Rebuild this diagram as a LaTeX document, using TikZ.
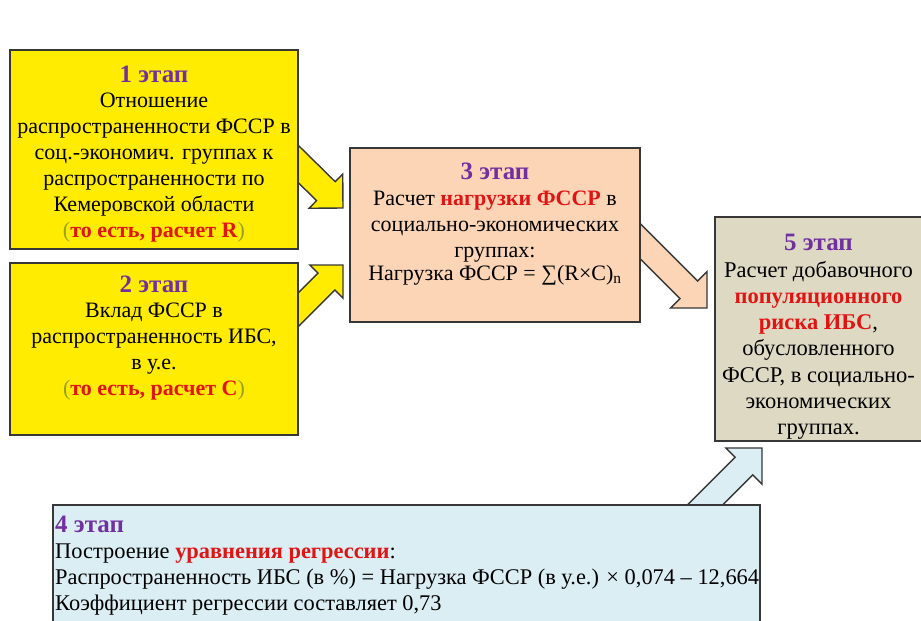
\documentclass[tikz,border=0pt]{standalone}
\usepackage{fontspec}
\setmainfont{Liberation Serif}
\usetikzlibrary{calc,backgrounds}
\definecolor{yfill}{RGB}{255,236,0}
\definecolor{peach}{RGB}{251,213,181}
\definecolor{tanc}{RGB}{221,217,195}
\definecolor{lblue}{RGB}{219,238,244}
\definecolor{bcol}{RGB}{55,55,55}
\definecolor{ttlcol}{RGB}{112,48,160}
\definecolor{redc}{RGB}{225,20,20}
\definecolor{olivec}{RGB}{150,160,40}
\tikzset{
 box/.style={draw=bcol, line width=1.4pt, inner sep=0pt, outer sep=0pt},
 txt/.style={font=\fontsize{22}{25.9}\selectfont, align=center, inner sep=0pt},
 ttl/.style={font=\fontsize{25}{26}\selectfont\bfseries, text=ttlcol, inner sep=0pt},
 arr/.style={draw=bcol, line width=1.4pt, line join=miter},
}
\newcommand\rd[1]{\textcolor{redc}{\textbf{#1}}}
\newcommand\blkarrow[6]{%
 \coordinate (tmpH) at ($(#3)!#6!(#2)$);
 \draw[#1] ($(#2)!#4!90:(#3)$) -- ($(tmpH)!#4!90:(#3)$) -- ($(tmpH)!#5!90:(#3)$) -- (#3)
   -- ($(tmpH)!#5!-90:(#3)$) -- ($(tmpH)!#4!-90:(#3)$) -- ($(#2)!#4!-90:(#3)$) -- cycle;
}
\begin{document}
\begin{tikzpicture}[x=1pt,y=-1pt]
\useasboundingbox (0,0) rectangle (921,621);
% boxes
\node[box, fill=yfill, minimum width=288pt, minimum height=199pt] (b1) at (154,149.5) {};
\node[box, fill=yfill, minimum width=288pt, minimum height=172pt] (b2) at (154,349) {};
\node[box, fill=peach, minimum width=290pt, minimum height=174pt] (b3) at (495,235) {};
\node[box, fill=tanc, minimum width=207pt, minimum height=224pt] (b5) at (818.5,329) {};
\node[box, fill=lblue, minimum width=707pt, minimum height=140pt] (b4) at (406.5,575) {};
% texts
\node[ttl, anchor=base] (t1) at (154,82.5) {1 этап};
\node[txt, anchor=north] (d1) at (154,93) {Отношение\\распространенности ФССР в\\соц.-экономич. группах к\\распространенности по\\Кемеровской области\\\textcolor{olivec}{(}\rd{то есть, расчет R}\textcolor{olivec}{)}};
\node[ttl, anchor=base] (t2) at (154,292.5) {2 этап};
\node[txt, anchor=north] (d2) at (154,303) {Вклад ФССР в\\распространенность ИБС,\\в у.е.\\\textcolor{olivec}{(}\rd{то есть, расчет С}\textcolor{olivec}{)}};
\node[ttl, anchor=base] (t3) at (495,179.5) {3 этап};
\node[txt, anchor=north] (d3) at (495,191) {Расчет \rd{нагрузки ФССР} в\\социально-экономических\\группах:\\[-3pt]Нагрузка ФССР = ∑(R×C)\textsubscript{n}};
\node[ttl, anchor=base] (t5) at (818.5,250.5) {5 этап};
\node[txt, anchor=north, font=\fontsize{22.5}{26.2}\selectfont] (d5) at (818.5,261) {Расчет добавочного\\\rd{популяционного}\\\rd{риска ИБС},\\обусловленного\\ФССР, в социально-\\экономических\\группах.};
\node[ttl, anchor=base west] (t4) at (55,532.5) {4 этап};
\node[txt, align=left, anchor=north west, font=\fontsize{22.4}{26}\selectfont] (d4) at (55,544) {Построение \rd{уравнения регрессии}:\\Распространенность ИБС (в \%) = Нагрузка ФССР (в у.е.) × 0,074 – 12,664\\Коэффициент регрессии составляет 0,73};
% arrows
\begin{pgfonlayer}{background}
\coordinate (a1s) at ($(b1.east)+(-18,-3.5)$);
\coordinate (a1t) at ($(b3.west)+(-7,-27)$);
\blkarrow{arr, fill=yfill}{a1s}{a1t}{13.3pt}{24pt}{24pt}
\coordinate (a2s) at ($(b2.east)+(-18,-21)$);
\coordinate (a2t) at ($(b3.west)+(-7,30)$);
\blkarrow{arr, fill=yfill}{a2s}{a2t}{12pt}{23.5pt}{23.5pt}
\coordinate (a3s) at ($(b3.east)+(-20,-14)$);
\coordinate (a3t) at ($(b5.west)+(-8,-21)$);
\blkarrow{arr, fill=peach}{a3s}{a3t}{12.4pt}{25.8pt}{25.8pt}
\coordinate (a4s) at ($(b4.north east)+(-70,15)$);
\coordinate (a4t) at ($(b5.south)+(-56.5,7)$);
\blkarrow{arr, fill=lblue}{a4s}{a4t}{12.4pt}{25.5pt}{25.5pt}
\end{pgfonlayer}
\end{tikzpicture}
\end{document}
